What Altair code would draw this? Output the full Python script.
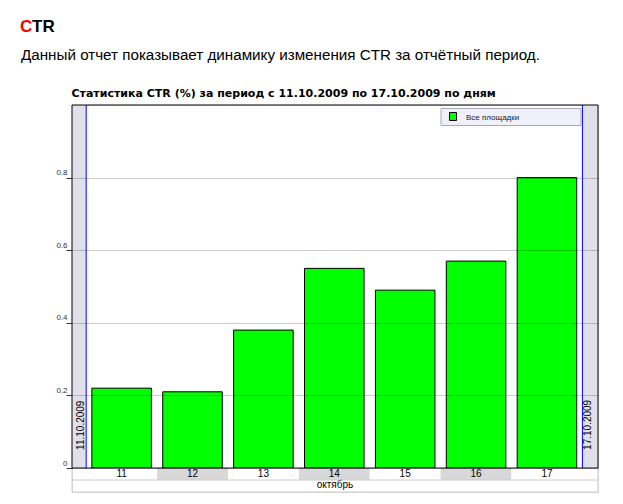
import altair as alt
import pandas as pd

# ---- data ----
days = ["11", "12", "13", "14", "15", "16", "17"]
ctr = [0.22, 0.21, 0.38, 0.55, 0.49, 0.57, 0.80]
y_ticks = [0, 0.2, 0.4, 0.6, 0.8]
month_label = "октябрь"
start_date = "11.10.2009"
end_date = "17.10.2009"
series_name = "Все площадки"
header_red = "C"
header_rest = "TR"
subtitle = "Данный отчет показывает динамику изменения CTR за отчётный период."
chart_title = "Статистика CTR (%) за период с 11.10.2009 по 17.10.2009 по дням"

# ---- layout constants ----
X_MIN, X_MAX = -0.2, 7.22
Y_MIN, Y_MAX = -0.066, 1.0
ROW = -0.033
FONT = "Liberation Sans"

bars = pd.DataFrame({
    "day": days,
    "ctr": ctr,
    "x0": [i + 0.08 for i in range(len(days))],
    "x1": [i + 0.92 for i in range(len(days))],
    "c0": [i for i in range(len(days))],
    "c1": [i + 1 for i in range(len(days))],
    "xm": [i + 0.5 for i in range(len(days))],
    "shade": ["#ffffff" if i % 2 == 0 else "#d8d8d8" for i in range(len(days))],
    "ylo": [ROW] * len(days),
    "yhi": [0.0] * len(days),
    "yd": [-0.024] * len(days),
})

xs = alt.Scale(domain=[X_MIN, X_MAX], nice=False, zero=False)
ys = alt.Scale(domain=[Y_MIN, Y_MAX], nice=False, zero=False)

y_axis = alt.Axis(
    values=y_ticks, title=None, domain=False, grid=True, gridColor="#000000",
    gridOpacity=0.2, gridWidth=1, tickColor="#333333", tickSize=6,
    labelFontSize=8, labelColor="#333333", labelFont=FONT, labelPadding=-1,
    labelBaseline="alphabetic", labelOffset=-3, zindex=1,
    labelExpr="datum.value == 0 ? '0' : format(datum.value, '.1f')",
)


def Y(field):
    return alt.Y(field, scale=ys, axis=y_axis)


def X(field):
    return alt.X(field, scale=xs, axis=None)


base = alt.Chart(bars)

# gray side bands
bands = alt.Chart(pd.DataFrame({"a": [X_MIN, 7.0], "b": [0.0, X_MAX], "lo": [0.0, 0.0], "hi": [1.0, 1.0]})).mark_rect(
    color="#e0e0ea"
).encode(x=X("a:Q"), x2="b:Q", y=Y("lo:Q"), y2="hi:Q")

# bars
bar_layer = base.mark_rect(fill="#00ff00", stroke="#000000", strokeWidth=1).encode(
    x=X("x0:Q"), x2="x1:Q", y=Y("ctr:Q"), y2="yhi:Q",
)

# blue boundary lines
blue = alt.Chart(pd.DataFrame({"a": [0.0, 7.0], "lo": [0.0, 0.0], "hi": [1.0, 1.0]})).mark_rule(
    color="#0000ff", strokeWidth=1
).encode(x=X("a:Q"), y=Y("lo:Q"), y2="hi:Q")

# lower cells (day row)
cells = base.mark_rect(strokeWidth=0).encode(
    x=X("c0:Q"), x2="c1:Q", y=Y("ylo:Q"), y2="yhi:Q",
    fill=alt.Fill("shade:N", scale=None),
)

day_text = base.mark_text(font=FONT, fontSize=10, color="#000000", baseline="alphabetic").encode(
    x=X("xm:Q"), y=Y("yd:Q"), text="day:N",
)

month_text = alt.Chart(pd.DataFrame({"t": [month_label], "a": [(X_MIN + X_MAX) / 2], "b": [-0.055]})).mark_text(
    font=FONT, fontSize=10, color="#000000", baseline="alphabetic"
).encode(x=X("a:Q"), y=Y("b:Q"), text="t:N")

# light gray borders of lower region
lg_v = alt.Chart(pd.DataFrame({"a": [X_MIN, X_MAX], "lo": [Y_MIN, Y_MIN], "hi": [0.0, 0.0]})).mark_rule(
    color="#cccccc"
).encode(x=X("a:Q"), y=Y("lo:Q"), y2="hi:Q")
lg_h = alt.Chart(pd.DataFrame({"b": [Y_MIN, ROW], "l": [X_MIN, X_MIN], "r": [X_MAX, X_MAX]})).mark_rule(
    color="#cccccc"
).encode(y=Y("b:Q"), x=X("l:Q"), x2="r:Q")

# black frame
frame_v = alt.Chart(pd.DataFrame({"a": [X_MIN, X_MAX], "lo": [0.0, 0.0], "hi": [1.0, 1.0]})).mark_rule(
    color="#000000"
).encode(x=X("a:Q"), y=Y("lo:Q"), y2="hi:Q")
frame_h = alt.Chart(pd.DataFrame({"b": [0.0, 1.0], "l": [X_MIN, X_MIN], "r": [X_MAX, X_MAX]})).mark_rule(
    color="#000000"
).encode(y=Y("b:Q"), x=X("l:Q"), x2="r:Q")

# rotated date labels
dates = alt.Chart(pd.DataFrame({"a": [-0.07, 7.08], "b": [0.05, 0.05], "t": [start_date, end_date]})).mark_text(
    font=FONT, fontSize=10, angle=270, align="left", baseline="middle", color="#000000"
).encode(x=X("a:Q"), y=Y("b:Q"), text="t:N")

one = pd.DataFrame({"t": [series_name]})

# legend box
leg_box = alt.Chart(one).mark_rect(fill="#f0f0fa", stroke="#a8a8b8", strokeWidth=1).encode(
    x=alt.value(369), x2=alt.value(509), y=alt.value(3.5), y2=alt.value(20.5),
)
leg_sym = alt.Chart(one).mark_rect(fill="#00ff00", stroke="#000000", strokeWidth=1).encode(
    x=alt.value(377.5), x2=alt.value(384.5), y=alt.value(7.5), y2=alt.value(15.5),
)
leg_txt = alt.Chart(one).mark_text(
    font=FONT, fontSize=8, align="left", baseline="alphabetic", color="#222222"
).encode(x=alt.value(394), y=alt.value(14.5), text="t:N")

# header texts
hdr_c = alt.Chart(pd.DataFrame({"t": [header_red]})).mark_text(
    font=FONT, fontSize=17, fontWeight="bold", align="left", baseline="alphabetic", color="#ff0000"
).encode(x=alt.value(-52), y=alt.value(-73), text="t:N")
hdr_r = alt.Chart(pd.DataFrame({"t": [header_rest]})).mark_text(
    font=FONT, fontSize=17, fontWeight="bold", align="left", baseline="alphabetic", color="#000000"
).encode(x=alt.value(-40), y=alt.value(-73), text="t:N")
sub = alt.Chart(pd.DataFrame({"t": [subtitle]})).mark_text(
    font=FONT, fontSize=15.2, align="left", baseline="alphabetic", color="#000000"
).encode(x=alt.value(-51), y=alt.value(-45.5), text="t:N")
ttl = alt.Chart(pd.DataFrame({"t": [chart_title]})).mark_text(
    font="DejaVu Sans", fontSize=11, fontWeight="bold", align="left", baseline="alphabetic", color="#000000"
).encode(x=alt.value(-0.5), y=alt.value(-8.3), text="t:N")

chart = alt.layer(
    bands, bar_layer, blue, cells, day_text, month_text, lg_v, lg_h,
    frame_v, frame_h, dates, leg_box, leg_sym, leg_txt, hdr_c, hdr_r, sub, ttl,
).properties(
    width=526, height=387,
    padding={"left": 64, "top": 97, "right": 17, "bottom": 4},
    autosize=alt.AutoSizeParams(type="none"),
).configure_view(strokeWidth=0).configure(font=FONT)

chart.save("out.html", embed_options={"renderer": "svg", "actions": False})
